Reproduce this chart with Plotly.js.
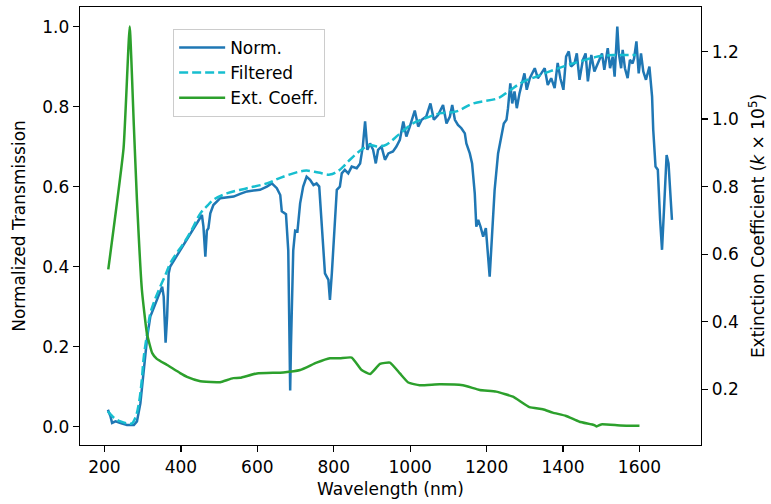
<!DOCTYPE html>
<html>
<head>
<meta charset="utf-8">
<script src="https://cdn.plot.ly/plotly-3.0.1.min.js"></script>
<style>html,body{margin:0;padding:0;background:#fff;}#chart{width:771px;height:504px;}</style>
</head>
<body>
<div id="chart"></div>
<script>
const normWl = [209,216,220,229,242,259,277,285,294,303,312,320,333,346,351,355,360,364,368,372,398,425,451,455,459,464,468,472,477,485,503,520,538,555,573,590,607,625,638,651,660,664,668,675,681,684,686,688,691,694,699,705,712,720,729,738,747,755,762,768,777,786,790,795,801,808,816,821,829,838,847,860,869,876,882,888,895,903,910,916,925,934,943,955,964,973,982,990,999,1012,1021,1030,1042,1053,1062,1073,1086,1095,1104,1110,1117,1125,1134,1143,1147,1156,1162,1169,1173,1178,1184,1191,1198,1204,1208,1214,1221,1230,1238,1245,1252,1256,1262,1267,1273,1279,1286,1293,1299,1305,1313,1326,1334,1343,1352,1360,1369,1378,1386,1393,1401,1408,1415,1421,1430,1436,1443,1452,1459,1465,1474,1482,1491,1502,1508,1517,1523,1530,1535,1542,1546,1552,1556,1562,1569,1575,1582,1586,1592,1598,1604,1610,1617,1626,1633,1636,1642,1648,1654,1659,1665,1671,1676,1685];
const normVal = [0.042,0.025,0.009,0.013,0.009,0.004,0.004,0.013,0.058,0.15,0.225,0.275,0.308,0.342,0.35,0.325,0.21,0.275,0.383,0.40,0.44,0.483,0.525,0.529,0.50,0.425,0.49,0.496,0.533,0.554,0.571,0.573,0.575,0.582,0.588,0.59,0.592,0.60,0.608,0.596,0.579,0.538,0.535,0.531,0.44,0.25,0.09,0.2,0.35,0.44,0.49,0.488,0.558,0.60,0.625,0.617,0.604,0.608,0.60,0.508,0.383,0.367,0.317,0.383,0.49,0.592,0.60,0.633,0.642,0.633,0.65,0.646,0.658,0.70,0.763,0.692,0.708,0.692,0.658,0.692,0.70,0.667,0.683,0.688,0.70,0.717,0.763,0.725,0.75,0.79,0.75,0.767,0.775,0.808,0.767,0.779,0.804,0.758,0.775,0.804,0.767,0.754,0.746,0.733,0.708,0.683,0.658,0.583,0.50,0.517,0.50,0.475,0.496,0.433,0.375,0.475,0.592,0.683,0.729,0.758,0.767,0.796,0.858,0.808,0.838,0.796,0.833,0.858,0.883,0.842,0.871,0.896,0.871,0.883,0.896,0.854,0.871,0.846,0.909,0.871,0.842,0.925,0.938,0.90,0.908,0.933,0.867,0.917,0.933,0.863,0.929,0.888,0.908,0.933,0.892,0.946,0.896,0.925,0.875,1.0,0.933,0.896,0.942,0.896,0.871,0.917,0.908,0.921,0.963,0.883,0.933,0.888,0.867,0.90,0.825,0.742,0.65,0.642,0.517,0.442,0.558,0.679,0.658,0.517];

const filtWl = [209,225,242,260,272,282,290,297,303,312,320,333,346,360,372,390,407,430,451,470,485,520,573,625,660,712,729,760,790,810,825,840,860,880,895,915,938,970,1007,1051,1077,1121,1165,1230,1260,1295,1330,1365,1400,1426,1452,1491,1530,1560,1591];
const filtVal = [0.038,0.022,0.013,0.008,0.008,0.025,0.058,0.11,0.175,0.235,0.283,0.32,0.35,0.38,0.408,0.435,0.458,0.495,0.533,0.553,0.567,0.583,0.596,0.608,0.622,0.638,0.64,0.635,0.63,0.638,0.65,0.665,0.683,0.697,0.704,0.70,0.705,0.73,0.758,0.775,0.783,0.788,0.808,0.821,0.84,0.862,0.875,0.888,0.90,0.908,0.915,0.925,0.929,0.929,0.929];

const extWl = [210,250,266,277,285,298,311,325,337,364,398,416,451,494,503,537,555,599,668,712,755,790,816,847,873,895,921,947,973,995,1025,1077,1138,1182,1225,1269,1312,1347,1373,1408,1443,1482,1488,1500,1550,1600];
const extVal = [0.555,0.914,1.274,0.978,0.761,0.494,0.366,0.307,0.29,0.272,0.248,0.237,0.224,0.221,0.221,0.233,0.234,0.247,0.25,0.257,0.279,0.292,0.292,0.294,0.257,0.245,0.275,0.279,0.247,0.22,0.212,0.215,0.212,0.198,0.193,0.178,0.147,0.141,0.131,0.121,0.104,0.094,0.09,0.096,0.093,0.092];

const xTicks = [200,400,600,800,1000,1200,1400,1600];
const yTicks = [0.0,0.2,0.4,0.6,0.8,1.0];
const y2Ticks = [0.2,0.4,0.6,0.8,1.0,1.2];

const fontFam = 'DejaVu Sans, sans-serif';
const fs = 17;

const traces = [
  {x: normWl, y: normVal, type: 'scatter', mode: 'lines', name: 'Norm.',
   line: {color: '#1f77b4', width: 2.5}, xaxis: 'x', yaxis: 'y'},
  {x: filtWl, y: filtVal, type: 'scatter', mode: 'lines', name: 'Filtered',
   line: {color: '#17becf', width: 2.5, dash: '9px,4px', shape: 'spline'}, xaxis: 'x', yaxis: 'y'},
  {x: extWl, y: extVal, type: 'scatter', mode: 'lines', name: 'Ext. Coeff.',
   line: {color: '#2ca02c', width: 2.5, shape: 'spline', smoothing: 0.4}, xaxis: 'x', yaxis: 'y2'}
];

const axBase = {
  showgrid: false, zeroline: false, showline: true, linecolor: '#000', linewidth: 1.3,
  ticks: 'outside', ticklen: 6, tickwidth: 1.3, tickcolor: '#000',
  tickfont: {family: fontFam, size: fs, color: '#000'}
};

const layout = {
  width: 771, height: 504,
  margin: {l: 80, r: 70, t: 7, b: 59},
  paper_bgcolor: '#fff', plot_bgcolor: '#fff',
  font: {family: fontFam, size: fs, color: '#000'},
  showlegend: true,
  legend: {x: 0.15, y: 0.95, xanchor: 'left', yanchor: 'top',
    bgcolor: 'rgba(255,255,255,0.8)', bordercolor: '#cccccc', borderwidth: 1,
    itemwidth: 46,
    font: {family: fontFam, size: fs, color: '#000'}, tracegroupgap: 0},
  xaxis: Object.assign({}, axBase, {
    range: [136, 1761], tickvals: xTicks, ticktext: xTicks.map(String), mirror: true,
    title: {text: 'Wavelength (nm)', font: {family: fontFam, size: fs}, standoff: 7}
  }),
  yaxis: Object.assign({}, axBase, {
    range: [-0.046, 1.049], tickvals: yTicks, ticktext: yTicks.map(v => v.toFixed(1)),
    title: {text: 'Normalized Transmission', font: {family: fontFam, size: fs}, standoff: 12}
  }),
  yaxis2: Object.assign({}, axBase, {
    range: [0.035, 1.332], tickvals: y2Ticks, ticktext: y2Ticks.map(v => v.toFixed(1)),
    overlaying: 'y', side: 'right', anchor: 'x',
    title: {text: 'Extinction Coefficient (<i>k</i> × 10<sup>5</sup>)', font: {family: fontFam, size: fs}, standoff: 14}
  })
};

Plotly.newPlot('chart', traces, layout, {staticPlot: true, displayModeBar: false});
</script>
</body>
</html>
